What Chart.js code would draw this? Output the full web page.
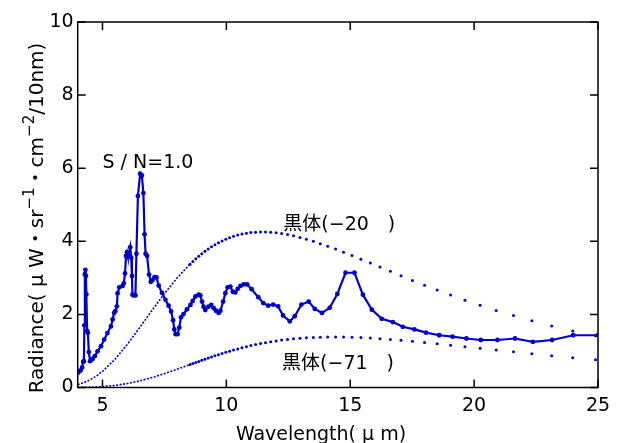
<!DOCTYPE html>
<html>
<head>
<meta charset="utf-8">
<script src="https://cdn.jsdelivr.net/npm/chart.js@4.4.1/dist/chart.umd.min.js"></script>
<style>
  html, body { margin: 0; padding: 0; background: #fff; }
</style>
</head>
<body>
<canvas id="chart" width="621" height="443"></canvas>
<script>
// axis ticks
const X_TICKS = [5, 10, 15, 20, 25];
const Y_TICKS = [0, 2, 4, 6, 8, 10];

// measured spectrum, S/N = 1.0
const SN_WAVE = [4.00, 4.06, 4.12, 4.18, 4.22, 4.25, 4.27, 4.29, 4.31, 4.33, 4.35, 4.38, 4.41, 4.45, 4.50,
  4.60, 4.69, 4.80, 4.94, 5.07, 5.20, 5.34, 5.41, 5.47, 5.52, 5.58, 5.61, 5.68, 5.81, 5.86, 5.91, 5.95,
  5.99, 6.02, 6.07, 6.12, 6.16, 6.19, 6.21, 6.26, 6.33, 6.37, 6.43, 6.52, 6.59, 6.65, 6.70, 6.74, 6.80,
  6.88, 6.95, 7.02, 7.10, 7.18, 7.27, 7.40, 7.54, 7.67, 7.77, 7.85, 7.90, 7.95, 8.03, 8.10, 8.17, 8.27,
  8.41, 8.55, 8.64, 8.75, 8.88, 8.95, 9.02, 9.08, 9.15, 9.28, 9.39, 9.49, 9.58, 9.69, 9.76, 9.87, 9.96,
  10.05, 10.16, 10.26, 10.36, 10.46, 10.57, 10.70, 10.84, 11.02, 11.29, 11.49, 11.69, 11.89, 12.09, 12.29,
  12.56, 12.76, 13.03, 13.32, 13.57, 13.86, 14.17, 14.48, 14.81, 15.17, 15.51, 15.87, 16.27, 16.72, 17.12,
  17.59, 18.06, 18.59, 19.13, 19.69, 20.27, 20.94, 21.65, 22.37, 23.15, 24.00, 25.00];
const SN_RAD = [0.40, 0.44, 0.47, 0.55, 0.70, 0.72, 1.70, 3.10, 3.22, 3.05, 2.55, 1.55, 1.50, 0.97, 0.72,
  0.78, 0.86, 0.99, 1.13, 1.31, 1.49, 1.67, 1.86, 2.04, 2.09, 2.22, 2.58, 2.74, 2.78, 2.85, 3.12, 3.60,
  3.70, 3.60, 3.66, 3.84, 3.55, 3.05, 2.54, 2.52, 2.52, 3.66, 5.24, 5.85, 5.80, 5.32, 4.19, 3.66, 3.60,
  3.09, 2.89, 2.94, 3.02, 3.01, 2.79, 2.59, 2.40, 2.24, 2.08, 1.84, 1.59, 1.46, 1.46, 1.64, 1.92, 2.01,
  2.14, 2.26, 2.37, 2.49, 2.54, 2.52, 2.35, 2.21, 2.12, 2.21, 2.26, 2.17, 2.10, 2.04, 2.10, 2.35, 2.58,
  2.74, 2.76, 2.62, 2.60, 2.70, 2.78, 2.82, 2.82, 2.69, 2.47, 2.31, 2.24, 2.27, 2.22, 1.97,
  1.81, 1.95, 2.27, 2.35, 2.15, 2.04, 2.18, 2.56, 3.14, 3.14, 2.54, 2.13, 1.88, 1.79, 1.66,
  1.59, 1.50, 1.43, 1.39, 1.34, 1.30, 1.30, 1.34, 1.25, 1.30, 1.43, 1.43];

// blackbody curves, short-wave part (dots merge into a dotted line)
const BB_DENSE_WAVE = [4.00, 4.25, 4.50, 4.75, 5.00, 5.50, 6.00, 6.50, 7.00, 7.50, 8.00, 8.50];
const BB20_DENSE = [0.079, 0.134, 0.211, 0.313, 0.441, 0.769, 1.178, 1.637, 2.110, 2.569, 2.988, 3.353];
const BB71_DENSE = [0.002, 0.005, 0.009, 0.015, 0.025, 0.057, 0.108, 0.180, 0.272, 0.379, 0.497, 0.620];

// blackbody curves, long-wave part (separate dots)
const BB_DOT_WAVE = [8.535, 8.649, 8.766, 8.886, 9.009, 9.136, 9.266, 9.400, 9.538, 9.681, 9.827, 9.978,
  10.13, 10.29, 10.46, 10.63, 10.81, 10.99, 11.18, 11.38, 11.58, 11.79, 12.01, 12.23, 12.47, 12.71, 12.97,
  13.23, 13.51, 13.79, 14.09, 14.41, 14.73, 15.07, 15.43, 15.81, 16.20, 16.62, 17.05, 17.51, 18.00, 18.51,
  19.05, 19.63, 20.24, 20.89, 21.59, 22.33, 23.13, 23.98, 24.90];
const BB20_DOTS = [3.375, 3.449, 3.520, 3.591, 3.659, 3.725, 3.788, 3.849, 3.906, 3.960, 4.011, 4.057,
  4.100, 4.138, 4.171, 4.199, 4.222, 4.240, 4.251, 4.256, 4.255, 4.248, 4.234, 4.213, 4.185, 4.150, 4.107,
  4.058, 4.001, 3.936, 3.865, 3.786, 3.701, 3.609, 3.510, 3.405, 3.294, 3.178, 3.056, 2.930, 2.800, 2.666,
  2.529, 2.390, 2.250, 2.108, 1.967, 1.826, 1.686, 1.549, 1.414];
const BB71_DOTS = [0.629, 0.657, 0.685, 0.714, 0.744, 0.774, 0.805, 0.836, 0.867, 0.899, 0.930, 0.962,
  0.994, 1.025, 1.056, 1.087, 1.117, 1.146, 1.174, 1.201, 1.227, 1.252, 1.275, 1.297, 1.316, 1.333, 1.348,
  1.361, 1.371, 1.378, 1.382, 1.382, 1.380, 1.374, 1.365, 1.352, 1.336, 1.315, 1.291, 1.264, 1.232, 1.198,
  1.159, 1.118, 1.073, 1.026, 0.976, 0.924, 0.869, 0.814, 0.757];

// y title pieces: [text, superscript?]
const Y_TITLE = [ [ 'Radiance( μ W・sr', false ], [ '−1', true ], [ '・cm', false ], [ '−2', true ], [ '/10nm)', false ] ];

const BLUE = '#0000cc';
const FONT = '"DejaVu Sans", "Noto Sans CJK JP", sans-serif';

function pts( xs, ys ) {
    return xs.map( ( x, i ) => ( { x, y: ys[ i ] } ) );
}

// box, inward ticks and the free text
const framePlugin = {
    id: 'frame',
    afterDatasetsDraw( chart ) {
        const { ctx, chartArea: a, scales: { x, y } } = chart;
        ctx.save();
        ctx.strokeStyle = '#000';
        ctx.lineWidth = 1.5;
        ctx.strokeRect( a.left, a.top, a.right - a.left, a.bottom - a.top );
        ctx.beginPath();
        X_TICKS.forEach( ( v ) => {
            const px = x.getPixelForValue( v );
            ctx.moveTo( px, a.bottom ); ctx.lineTo( px, a.bottom - 8 );
            ctx.moveTo( px, a.top );    ctx.lineTo( px, a.top + 8 );
        } );
        Y_TICKS.forEach( ( v ) => {
            const py = y.getPixelForValue( v );
            ctx.moveTo( a.left, py );  ctx.lineTo( a.left + 8, py );
            ctx.moveTo( a.right, py ); ctx.lineTo( a.right - 8, py );
        } );
        ctx.stroke();

        ctx.fillStyle = '#000';
        ctx.font = `19px ${ FONT }`;
        ctx.textBaseline = 'alphabetic';
        ctx.textAlign = 'left';
        ctx.fillText( 'S / N=1.0', x.getPixelForValue( 5.0 ), y.getPixelForValue( 6.0 ) );
        ctx.fillText( '黒体(−20　)', x.getPixelForValue( 12.3 ), y.getPixelForValue( 4.3 ) );
        ctx.fillText( '黒体(−71　)', x.getPixelForValue( 12.25 ), y.getPixelForValue( 0.5 ) );

        ctx.textAlign = 'center';
        ctx.fillText( 'Wavelength( μ m)', 321, 440 );

        // rotated y title with superscripts
        ctx.textAlign = 'left';
        const fontOf = ( sup ) => ( sup ? `15px ${ FONT }` : `20px ${ FONT }` );
        let total = 0;
        Y_TITLE.forEach( ( [ t, sup ] ) => { ctx.font = fontOf( sup ); total += ctx.measureText( t ).width; } );
        ctx.translate( 43, 218 );
        ctx.rotate( -Math.PI / 2 );
        let cx = -total / 2;
        Y_TITLE.forEach( ( [ t, sup ] ) => {
            ctx.font = fontOf( sup );
            ctx.fillText( t, cx, sup ? -9 : 0 );
            cx += ctx.measureText( t ).width;
        } );
        ctx.restore();
    },
};

const tickFont = { family: FONT, size: 19 };

new Chart( document.getElementById( 'chart' ), {
    type: 'scatter',
    data: {
        datasets: [
            { data: pts( SN_WAVE, SN_RAD ), showLine: true, borderColor: BLUE, borderWidth: 2.2,
              pointRadius: 2.4, pointBackgroundColor: BLUE, pointBorderWidth: 0 },
            { data: pts( BB_DENSE_WAVE, BB20_DENSE ), showLine: true, borderColor: BLUE, borderWidth: 1.6,
              borderDash: [ 2, 1.5 ], pointRadius: 0 },
            { data: pts( BB_DENSE_WAVE, BB71_DENSE ), showLine: true, borderColor: BLUE, borderWidth: 1.6,
              borderDash: [ 2, 1.5 ], pointRadius: 0 },
            { data: pts( BB_DOT_WAVE, BB20_DOTS ), showLine: false, pointRadius: 1.5,
              pointBackgroundColor: BLUE, pointBorderWidth: 0 },
            { data: pts( BB_DOT_WAVE, BB71_DOTS ), showLine: false, pointRadius: 1.5,
              pointBackgroundColor: BLUE, pointBorderWidth: 0 },
        ],
    },
    options: {
        responsive: false,
        animation: false,
        layout: { padding: { top: 22, right: 23, left: 0, bottom: 0 } },
        plugins: { legend: { display: false }, tooltip: { enabled: false } },
        scales: {
            x: {
                type: 'linear', min: 4, max: 25,
                grid: { display: false, drawTicks: false },
                border: { display: false },
                afterBuildTicks: ( s ) => { s.ticks = X_TICKS.map( ( v ) => ( { value: v } ) ); },
                afterFit: ( s ) => { s.height = 55.5; },
                ticks: { color: '#000', font: tickFont, padding: 7, maxRotation: 0, autoSkip: false },
            },
            y: {
                type: 'linear', min: 0, max: 10,
                grid: { display: false, drawTicks: false },
                border: { display: false },
                afterBuildTicks: ( s ) => { s.ticks = Y_TICKS.map( ( v ) => ( { value: v } ) ); },
                afterFit: ( s ) => { s.width = 77.7; },
                ticks: { color: '#000', font: tickFont, padding: 4, autoSkip: false },
            },
        },
    },
    plugins: [ framePlugin ],
} );
</script>
</body>
</html>
